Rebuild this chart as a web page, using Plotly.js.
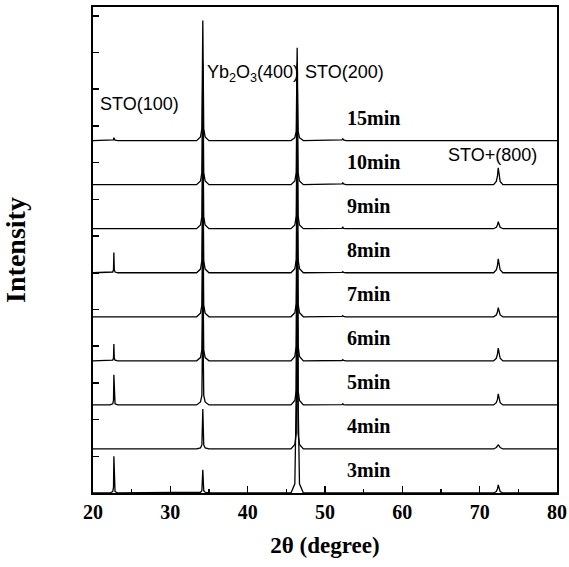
<!DOCTYPE html>
<html>
<head>
<meta charset="utf-8">
<script src="https://cdn.plot.ly/plotly-3.0.1.min.js"></script>
<style>html,body{margin:0;padding:0;background:#fff;}#chart{width:569px;height:567px;}</style>
</head>
<body>
<div id="chart"></div>
<script>
// 2-theta sample positions (degrees)
const twoTheta = [20,
  22.2, 22.55, 22.65, 22.7, 22.75, 22.85, 23.2,
  33.4, 33.9, 34.08, 34.2, 34.32, 34.5, 35.0,
  45.6, 46.1, 46.28, 46.4, 46.52, 46.7, 47.2,
  51.9, 52.2, 52.3, 52.4, 52.7,
  71.8, 72.15, 72.3, 72.4, 72.5, 72.65, 73.0,
  80];

// intensities (arbitrary units), per deposition time
const i3min = [0,
  0, 0.04, 0.15, 1.0, 0.15, 0.04, 0,
  0, 0.02, 0.06, 0.63, 0.06, 0.02, 0,
  0, 0.25, 2.6, 11.5, 2.6, 0.25, 0,
  0, 0, 0, 0, 0,
  0, 0.04, 0.11, 0.22, 0.11, 0.04, 0,
  0];
const i4min = [0,
  0, 0, 0, 0, 0, 0, 0,
  0, 0.03, 0.11, 1.09, 0.11, 0.03, 0,
  0, 0.12, 0.42, 4.2, 0.42, 0.12, 0,
  0, 0, 0, 0, 0,
  0, 0.04, 0.09, 0.11, 0.09, 0.04, 0,
  0];
const i5min = [0,
  0, 0.03, 0.12, 0.82, 0.12, 0.03, 0,
  0, 0.08, 0.26, 2.6, 0.26, 0.08, 0,
  0, 0.12, 0.4, 4.0, 0.4, 0.12, 0,
  0, 0.01, 0.03, 0.01, 0,
  0, 0.06, 0.15, 0.3, 0.15, 0.06, 0,
  0];
const i6min = [0,
  0, 0.02, 0.07, 0.46, 0.07, 0.02, 0,
  0, 0.09, 0.3, 3.0, 0.3, 0.09, 0,
  0, 0.12, 0.4, 4.0, 0.4, 0.12, 0,
  0, 0.01, 0.03, 0.01, 0,
  0, 0.07, 0.18, 0.35, 0.18, 0.07, 0,
  0];
const i7min = [0,
  0, 0, 0, 0, 0, 0, 0,
  0, 0.1, 0.32, 3.2, 0.32, 0.1, 0,
  0, 0.11, 0.36, 3.6, 0.36, 0.11, 0,
  0, 0.01, 0.03, 0.01, 0,
  0, 0.05, 0.13, 0.25, 0.13, 0.05, 0,
  0];
const i8min = [0,
  0, 0.02, 0.08, 0.55, 0.08, 0.02, 0,
  0, 0.1, 0.33, 3.3, 0.33, 0.1, 0,
  0, 0.11, 0.36, 3.6, 0.36, 0.11, 0,
  0, 0.01, 0.03, 0.01, 0,
  0, 0.08, 0.19, 0.38, 0.19, 0.08, 0,
  0];
const i9min = [0,
  0, 0, 0, 0, 0, 0, 0,
  0, 0.1, 0.33, 3.3, 0.33, 0.1, 0,
  0, 0.1, 0.35, 3.5, 0.35, 0.1, 0,
  0, 0.01, 0.04, 0.01, 0,
  0, 0.04, 0.1, 0.19, 0.1, 0.04, 0,
  0];
const i10min = [0,
  0, 0, 0, 0, 0, 0, 0,
  0, 0.1, 0.33, 3.3, 0.33, 0.1, 0,
  0, 0.1, 0.33, 3.3, 0.33, 0.1, 0,
  0, 0.02, 0.05, 0.02, 0,
  0, 0.09, 0.23, 0.46, 0.23, 0.09, 0,
  0];
const i15min = [0,
  0, 0.01, 0.02, 0.08, 0.02, 0.01, 0,
  0, 0.1, 0.33, 3.27, 0.33, 0.1, 0,
  0, 0.08, 0.25, 2.53, 0.25, 0.08, 0,
  0, 0.02, 0.05, 0.02, 0,
  0, 0, 0, 0, 0, 0, 0,
  0];

const seriesNames = ['3min', '4min', '5min', '6min', '7min', '8min', '9min', '10min', '15min'];
const seriesData = [i3min, i4min, i5min, i6min, i7min, i8min, i9min, i10min, i15min];

const peakLabels = ['STO(100)', 'Yb<sub>2</sub>O<sub>3</sub>(400)', 'STO(200)', 'STO+(800)'];
const peakLabelX = [20.65, 34.48, 47.16, 65.65];
const peakLabelY = [10.59, 11.44, 11.47, 9.21];

const xTicks = [20, 30, 40, 50, 60, 70, 80];

// layout helpers (not data)
const step = 1.2;
const labelLift = 0.62;
const serif = 'Liberation Serif, Times New Roman, serif';
const sans = 'Liberation Sans, Arial, sans-serif';

const traces = seriesData.map((ys, k) => ({
  x: twoTheta,
  y: ys.map(v => v + k * step),
  type: 'scatter',
  mode: 'lines',
  name: seriesNames[k],
  line: {color: '#000', width: 1.3},
  hoverinfo: 'skip'
}));

const annotations = [];
seriesNames.forEach((nm, k) => {
  annotations.push({
    x: 52.58, y: k * step + labelLift, xref: 'x', yref: 'y',
    text: nm, showarrow: false, xanchor: 'left', yanchor: 'middle',
    font: {family: serif, size: 20, color: '#000', weight: 'bold'}
  });
});
peakLabels.forEach((t, k) => {
  annotations.push({
    x: peakLabelX[k], y: peakLabelY[k], xref: 'x', yref: 'y',
    text: t, showarrow: false, xanchor: 'left', yanchor: 'middle',
    font: {family: sans, size: 18, color: '#000'}
  });
});

const layout = {
  width: 569, height: 567,
  margin: {l: 93, r: 12, t: 7, b: 74},
  paper_bgcolor: '#fff', plot_bgcolor: '#fff',
  showlegend: false,
  xaxis: {
    range: [20, 80], tickvals: xTicks, ticktext: xTicks.map(String),
    ticks: 'inside', ticklen: 7, tickwidth: 1.5, tickcolor: '#000',
    minor: {dtick: 5, tick0: 20, ticks: 'inside', ticklen: 4, tickwidth: 1.2, tickcolor: '#000', showgrid: false},
    showline: true, linewidth: 2, linecolor: '#000', mirror: true,
    showgrid: false, zeroline: false,
    tickfont: {family: serif, size: 20, color: '#000', weight: 'bold'},
    title: {text: '2θ (degree)', font: {family: serif, size: 23, color: '#000', weight: 'bold'}, standoff: 15}
  },
  yaxis: {
    range: [0, 13.24], dtick: 1, tick0: 0,
    ticks: 'inside', ticklen: 6, tickwidth: 1.5, tickcolor: '#000',
    showticklabels: false,
    showline: true, linewidth: 2, linecolor: '#000', mirror: true,
    showgrid: false, zeroline: false,
    title: {text: 'Intensity', font: {family: serif, size: 28, color: '#000', weight: 'bold'}, standoff: 58}
  },
  annotations: annotations
};

Plotly.newPlot('chart', traces, layout, {displayModeBar: false, staticPlot: true});
</script>
</body>
</html>
